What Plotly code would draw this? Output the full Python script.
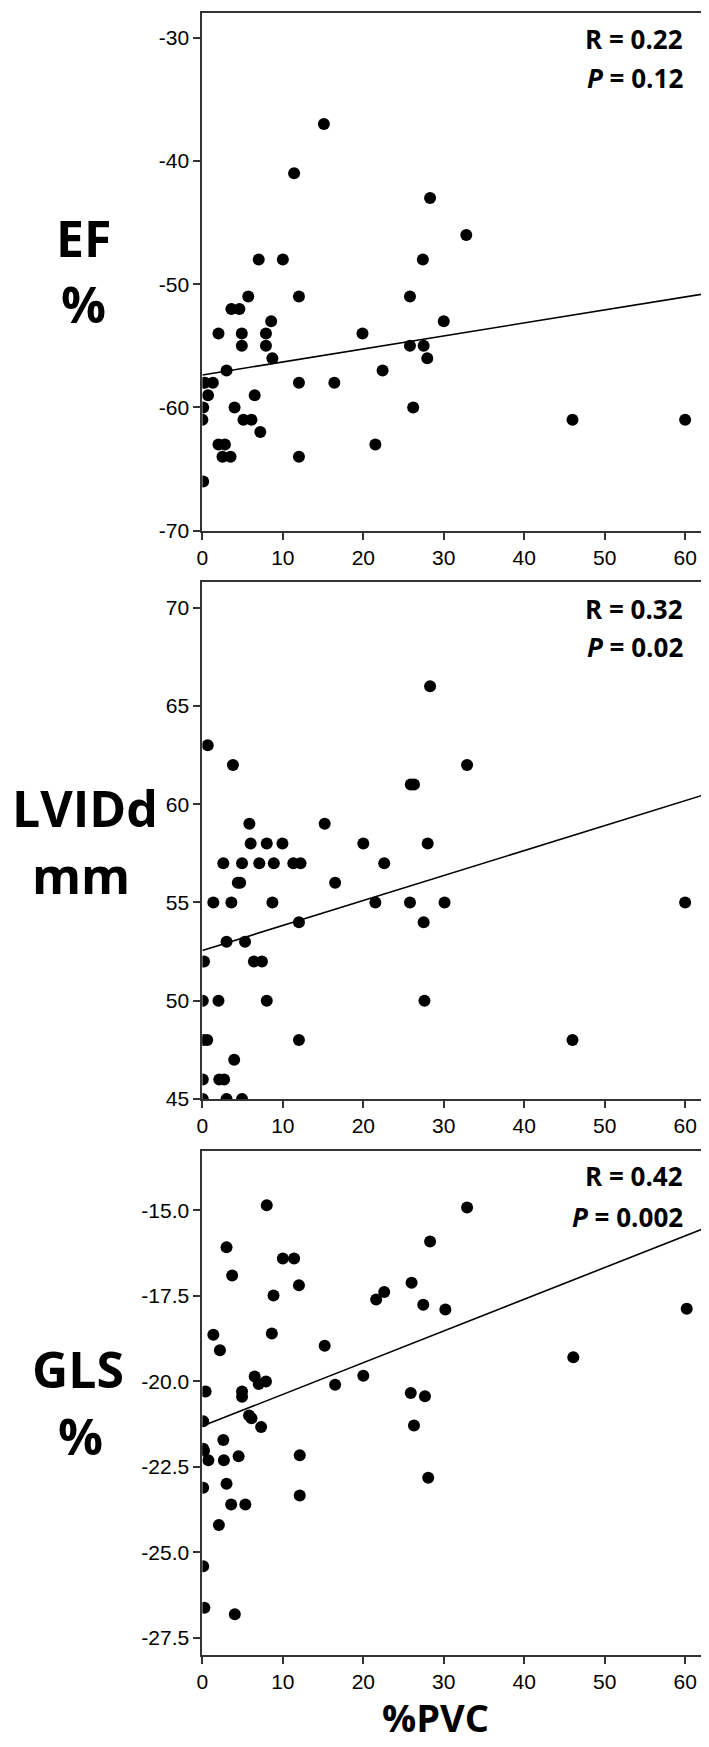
import plotly.graph_objects as go

# ---------------- data ----------------
ef_pvc = [15.1, 11.4, 28.3, 32.8, 7.0, 10.0, 27.4, 5.7, 12.0, 25.8, 3.6, 4.6, 8.55, 30.0,
          2.0, 4.9, 7.9, 19.9, 4.9, 7.9, 25.8, 27.5, 8.7, 27.95, 3.0, 22.4, 0.3, 1.3, 12.0,
          16.4, 0.7, 6.5, 0.1, 4.0, 26.2, 0.0, 5.1, 6.1, 46.0, 60.0, 7.2, 2.0, 2.8, 21.5,
          2.5, 3.5, 12.0, 0.1]
ef_val = [-37, -41, -43, -46, -48, -48, -48, -51, -51, -51, -52, -52, -53, -53,
          -54, -54, -54, -54, -55, -55, -55, -55, -56, -56, -57, -57, -58, -58, -58,
          -58, -59, -59, -60, -60, -60, -61, -61, -61, -61, -61, -62, -63, -63, -63,
          -64, -64, -64, -66]

lv_pvc = [0.66, 3.8, 28.3, 25.9, 26.3, 5.84, 15.2, 6.0, 8.0, 9.95, 20.0, 28.0, 2.6, 4.93,
          7.07, 8.88, 11.3, 12.2, 22.6, 4.4, 4.7, 16.5, 1.36, 3.6, 8.7, 21.5, 25.8, 30.1,
          60.0, 12.0, 27.5, 3.0, 5.3, 0.2, 6.4, 7.4, 0.05, 2.0, 8.0, 27.6, 0.1, 0.6, 12.0,
          46.0, 3.95, 0.05, 2.1, 2.7, 0.05, 3.0, 4.93, 32.9]
lv_val = [63, 62, 66, 61, 61, 59, 59, 58, 58, 58, 58, 58, 57, 57,
          57, 57, 57, 57, 57, 56, 56, 56, 55, 55, 55, 55, 55, 55,
          55, 54, 54, 53, 53, 52, 52, 52, 50, 50, 50, 50, 48, 48, 48,
          48, 47, 46, 46, 46, 45, 45, 45, 62]

gls_pvc = [8.0, 3.0, 28.3, 10.0, 11.4, 3.7, 12.0, 8.84, 26.0, 21.6, 22.6, 27.45, 30.2,
           1.36, 2.18, 8.63, 15.2, 6.5, 7.0, 7.9, 16.5, 20.0, 0.4, 4.93, 4.93, 25.9,
           27.66, 5.8, 6.1, 0.1, 7.3, 26.3, 2.6, 0.1, 0.2, 0.74, 2.67, 4.5, 12.1, 0.1,
           3.0, 3.58, 5.34, 12.1, 28.07, 2.05, 0.1, 0.25, 4.03, 32.9, 60.2, 46.1]
gls_val = [-14.85, -16.08, -15.91, -16.41, -16.41, -16.91, -17.19, -17.49, -17.12, -17.61,
           -17.39, -17.76, -17.9, -18.64, -19.09, -18.6, -18.96, -19.86, -20.08, -20.01,
           -20.1, -19.84, -20.3, -20.3, -20.45, -20.34, -20.44, -21.0, -21.08, -21.17,
           -21.34, -21.29, -21.72, -21.97, -22.03, -22.31, -22.31, -22.19, -22.16, -23.11,
           -23.0, -23.6, -23.6, -23.34, -22.82, -24.2, -25.41, -26.62, -26.81, -14.92,
           -17.88, -19.3]

# regression lines (intercept, slope)
fit_intercept = [-57.36, 52.56, -21.31]
fit_slope = [0.1055, 0.127, 0.0927]

r_labels = ["R = 0.22", "R = 0.32", "R = 0.42"]
p_labels = ["0.12", "0.02", "0.002"]
y_titles = [("EF", "%"), ("LVIDd", "mm"), ("GLS", "%")]
x_title = "%PVC"

x_ticks = [0, 10, 20, 30, 40, 50, 60]
ef_ticks = [-30, -40, -50, -60, -70]
lv_ticks = [45, 50, 55, 60, 65, 70]
gls_ticks = [-15.0, -17.5, -20.0, -22.5, -25.0, -27.5]

# ---------------- layout helpers ----------------
W, H = 709, 1747
X_MAX = 63.1
PLOT_L, PLOT_R = 190, 702
panels_px = [(4.7, 526.0), (577.3, 1098.0), (1150.7, 1657.3)]
y_ranges = [[-70, -27.96], [45, 71.32], [-28.0, -13.28]]


def px_x(px):
    return px / W


def px_y(py):
    return 1 - py / H


fig = go.Figure()

datasets = [(ef_pvc, ef_val), (lv_pvc, lv_val), (gls_pvc, gls_val)]
for i, (xs, ys) in enumerate(datasets):
    sfx = "" if i == 0 else str(i + 1)
    fig.add_trace(go.Scatter(
        x=xs, y=ys, mode="markers", xaxis="x" + sfx, yaxis="y" + sfx,
        marker=dict(color="black", size=12, line=dict(width=0)),
        showlegend=False, hoverinfo="skip"))
    fx = [0, X_MAX]
    fy = [fit_intercept[i] + fit_slope[i] * v for v in fx]
    fig.add_trace(go.Scatter(
        x=fx, y=fy, mode="lines", xaxis="x" + sfx, yaxis="y" + sfx,
        line=dict(color="black", width=1.6), showlegend=False, hoverinfo="skip"))

tick_font = dict(family="Liberation Sans, Arial, sans-serif", size=21, color="black")
axis_common = dict(showgrid=False, zeroline=False, showline=True, linecolor="#333",
                   linewidth=2, mirror=True, ticks="outside", ticklen=7, tickwidth=1.5,
                   tickcolor="#333", tickfont=tick_font)

layout = dict(width=W, height=H, margin=dict(l=0, r=0, t=0, b=0),
              paper_bgcolor="white", plot_bgcolor="white", showlegend=False)

y_tick_sets = [
    (ef_ticks, ["-%d" % abs(v) for v in ef_ticks]),
    (lv_ticks, [str(v) for v in lv_ticks]),
    (gls_ticks, ["-%.1f" % abs(v) for v in gls_ticks]),
]

for i, (top, bot) in enumerate(panels_px):
    sfx = "" if i == 0 else str(i + 1)
    layout["xaxis" + sfx] = dict(axis_common, domain=[px_x(PLOT_L), px_x(PLOT_R)],
                                 range=[0, X_MAX], tickvals=x_ticks,
                                 ticktext=[str(v) for v in x_ticks],
                                 anchor="y" + sfx)
    layout["yaxis" + sfx] = dict(axis_common, domain=[px_y(bot), px_y(top)],
                                 range=y_ranges[i], tickvals=y_tick_sets[i][0],
                                 ticktext=y_tick_sets[i][1], anchor="x" + sfx)

fig.update_layout(**layout)

ann_font = dict(family="Open Sans, sans-serif", size=26, color="black")
r_y = [31.4, 604.6, 1175.5]
p_y = [70.3, 642.9, 1216.8]
for i in range(3):
    fig.add_annotation(x=px_x(677), y=px_y(r_y[i]), xref="paper", yref="paper",
                       xanchor="right", yanchor="middle", showarrow=False,
                       text="<b>%s</b>" % r_labels[i], font=ann_font)
    fig.add_annotation(x=px_x(677), y=px_y(p_y[i]), xref="paper", yref="paper",
                       xanchor="right", yanchor="middle", showarrow=False,
                       text="<b><i>P</i> = %s</b>" % p_labels[i], font=ann_font)

title_font = dict(family="Open Sans, sans-serif", size=50, color="black")
title_pos = [((70, 231), (70, 298)), ((72, 805), (68, 872)), ((65, 1370), (67, 1437))]
for i in range(3):
    (x1, y1), (x2, y2) = title_pos[i]
    fig.add_annotation(x=px_x(x1), y=px_y(y1), xref="paper", yref="paper",
                       xanchor="center", yanchor="middle", showarrow=False,
                       text="<b>%s</b>" % y_titles[i][0], font=title_font)
    fig.add_annotation(x=px_x(x2), y=px_y(y2), xref="paper", yref="paper",
                       xanchor="center", yanchor="middle", showarrow=False,
                       text="<b>%s</b>" % y_titles[i][1], font=title_font)

fig.add_annotation(x=px_x(425), y=0, xref="paper", yref="paper",
                   xanchor="center", yanchor="bottom", showarrow=False,
                   text="<b>%s</b>" % x_title, borderpad=0,
                   font=dict(family="Open Sans, sans-serif", size=38, color="black"))

fig.write_html("out.html")
